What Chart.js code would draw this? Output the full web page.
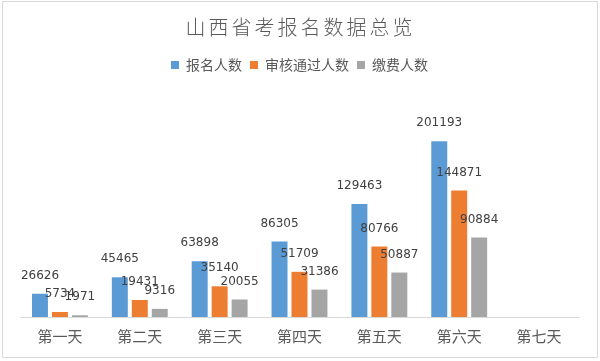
<!DOCTYPE html>
<html>
<head>
<meta charset="utf-8">
<script src="https://cdn.jsdelivr.net/npm/chart.js@4"></script>
<style>
  html, body { margin: 0; padding: 0; background: #fff; }
  #wrap { width: 600px; height: 361px; position: relative; }
</style>
</head>
<body>
<div id="wrap"><canvas id="chart"></canvas></div>
<script>
const categories = ['第一天', '第二天', '第三天', '第四天', '第五天', '第六天', '第七天'];
const applied = [26626, 45465, 63898, 86305, 129463, 201193, null];
const approved = [5734, 19431, 35140, 51709, 80766, 144871, null];
const paid = [1971, 9316, 20055, 31386, 50887, 90884, null];

const titleText = '山西省考报名数据总览';
const cjk = '"Noto Sans CJK SC", "Noto Sans", sans-serif';

// the number above each bar
const valueLabels = {
    id: 'valueLabels',
    afterDatasetsDraw(chart) {
        const ctx = chart.ctx;
        ctx.save();
        ctx.font = '12px "DejaVu Sans", sans-serif';
        ctx.fillStyle = '#404040';
        ctx.textAlign = 'center';
        ctx.textBaseline = 'middle';
        chart.data.datasets.forEach((ds, i) => {
            chart.getDatasetMeta(i).data.forEach((bar, j) => {
                if (ds.data[j] == null) return;
                ctx.fillText(String(ds.data[j]), bar.x, bar.y - 18);
            });
        });
        ctx.restore();
    }
};

// spaced-out title + thin frame round the picture
const decor = {
    id: 'decor',
    afterDraw(chart) {
        const ctx = chart.ctx;
        ctx.save();
        ctx.font = '300 20px ' + cjk;
        ctx.fillStyle = '#595959';
        ctx.textAlign = 'center';
        ctx.textBaseline = 'middle';
        ctx.letterSpacing = '3px';
        ctx.fillText(titleText, 299 + 1.5, 27);
        ctx.letterSpacing = '0px';
        ctx.strokeStyle = '#d9d9d9';
        ctx.lineWidth = 1;
        ctx.strokeRect(2.5, 1.5, 595, 356);
        ctx.restore();
    }
};

new Chart(document.getElementById('chart'), {
    type: 'bar',
    data: {
        labels: categories,
        datasets: [
            { label: '报名人数', data: applied, backgroundColor: '#5b9bd5' },
            { label: '审核通过人数', data: approved, backgroundColor: '#ed7d31' },
            { label: '缴费人数', data: paid, backgroundColor: '#a5a5a5' }
        ]
    },
    options: {
        responsive: true,
        maintainAspectRatio: false,
        animation: false,
        layout: { padding: { left: 20, right: 21, top: 50, bottom: 6 } },
        datasets: { bar: { categoryPercentage: 0.75, barPercentage: 0.8 } },
        plugins: {
            title: { display: false },
            legend: {
                position: 'top',
                labels: {
                    color: '#595959',
                    font: { family: cjk, size: 14 },
                    boxWidth: 8,
                    boxHeight: 8,
                    padding: 8
                }
            },
            tooltip: { enabled: false }
        },
        scales: {
            x: {
                grid: { display: false, drawTicks: false },
                border: { color: '#d9d9d9' },
                ticks: { color: '#595959', font: { family: cjk, size: 15 }, padding: 10 }
            },
            y: {
                display: false,
                min: 0,
                max: 269000
            }
        }
    },
    plugins: [valueLabels, decor]
});
</script>
</body>
</html>
